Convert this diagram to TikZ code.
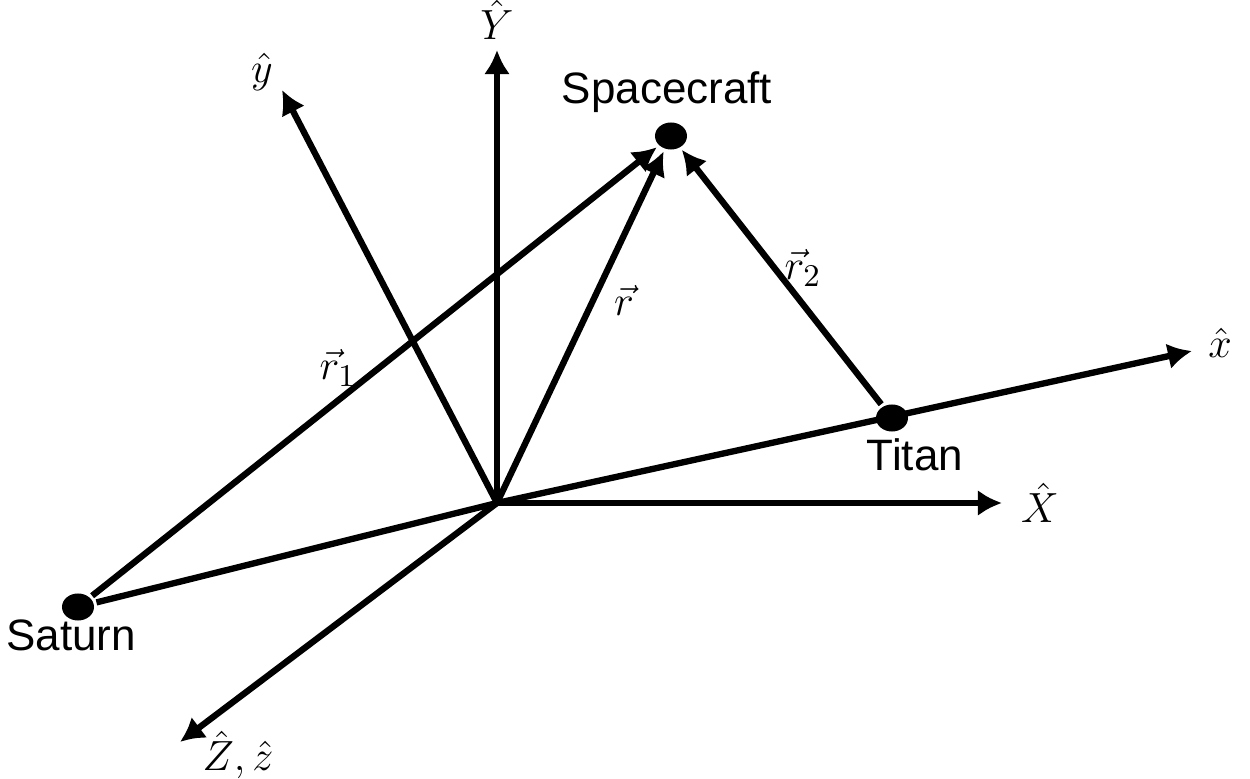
\documentclass[tikz,border=0pt]{standalone}
\usepackage{amsmath}
\usepackage{fontspec}
\setmainfont{Liberation Sans}
\usetikzlibrary{shapes}
\usetikzlibrary{positioning}
\usetikzlibrary{arrows.meta}

\begin{document}
\begin{tikzpicture}[
    x=0.01cm, y=-0.01cm,
    >={Latex[length=2.4mm,width=2.6mm]},
    line width=1.8pt,
    every node/.style={font=\fontsize{12.5}{15}\selectfont},
    body/.style={ellipse, fill=black, inner sep=0pt, minimum width=3.2mm, minimum height=2.7mm},
    axislabel/.style={font=\fontsize{13}{15}\selectfont},
    veclabel/.style={font=\fontsize{13}{15}\selectfont}
]
\useasboundingbox (0,0) rectangle (1250,779);
% frame origin and axis tips
\coordinate (O) at (497,503);
\coordinate (Ytip) at (497,50);
\coordinate (ytip) at (282,90);
\coordinate (Xtip) at (1002,503);
\coordinate (xtip) at (1192,351);
\coordinate (Ztip) at (180,742);
% bodies
\node[body] (craft) at (671,136) {};
\node[body] (titan) at (892,418) {};
\node[body] (saturn) at (78,607) {};
\node (craftname) at (667,92) {Spacecraft};
\node (titanname) at (915,455) {Titan};
\node (saturnname) at (71,635) {Saturn};
% axes
\draw[->] (O) -- (Ytip);
\draw[->] (O) -- (ytip);
\draw[->] (O) -- (Xtip);
\draw[->] (O) -- (Ztip);
\draw[->] (saturn) -- (O) -- (xtip);
\node[axislabel] (Ylab) at (497,20) {$\hat{Y}$};
\node[axislabel] (ylab) at (262,72) {$\hat{y}$};
\node[axislabel] (Xlab) at (1040,503) {$\hat{X}$};
\node[axislabel] (xlab) at (1220,343) {$\hat{x}$};
\node[axislabel] (Zlab) at (238,755) {$\hat{Z},\hat{z}$};
% position vectors
\draw[->] (saturn) -- (craft);
\draw[->] (O) -- (craft);
\draw[->] (titan) -- (craft);
\node[veclabel] (r1lab) at (338,368) {$\vec{r}_1$};
\node[veclabel] (rlab) at (624,300) {$\vec{r}$};
\node[veclabel] (r2lab) at (803,268) {$\vec{r}_2$};
\end{tikzpicture}
\end{document}
